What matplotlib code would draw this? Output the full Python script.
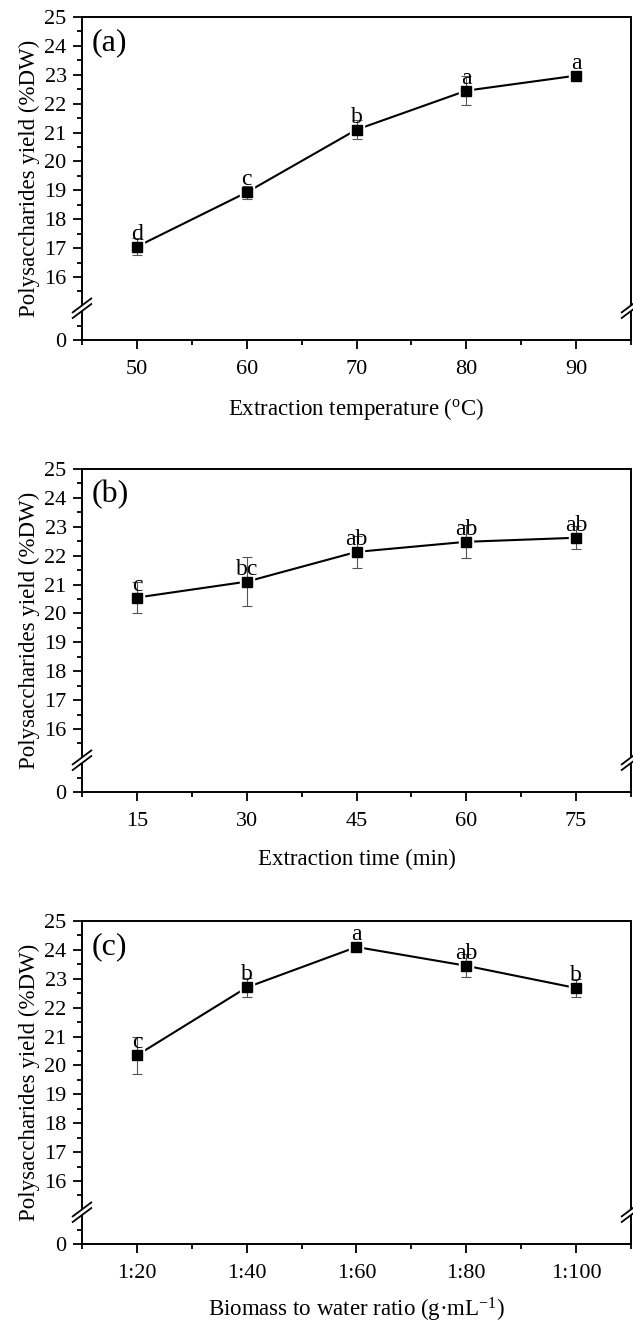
import numpy as np
import matplotlib
matplotlib.use("Agg")
import matplotlib.pyplot as plt
from matplotlib.ticker import FixedLocator
from matplotlib.patches import Polygon

plt.rcParams['font.family'] = ['Liberation Serif', 'DejaVu Serif']
plt.rcParams['mathtext.fontset'] = 'custom'
plt.rcParams['mathtext.rm'] = 'Liberation Serif'
plt.rcParams['mathtext.it'] = 'Liberation Serif:italic'

# ---- data ----
temp = [50, 60, 70, 80, 90]
yield_temp = [17.05, 18.93, 21.10, 22.45, 22.97]
err_temp = [0.30, 0.22, 0.33, 0.50, 0.10]
sig_temp = ['d', 'c', 'b', 'a', 'a']

time_min = [15, 30, 45, 60, 75]
yield_time = [20.55, 21.10, 22.13, 22.48, 22.62]
err_time = [0.55, 0.85, 0.55, 0.57, 0.40]
sig_time = ['c', 'bc', 'ab', 'ab', 'ab']

ratio_labels = ['1:20', '1:40', '1:60', '1:80', '1:100']
yield_ratio = [20.35, 22.70, 24.10, 23.45, 22.68]
err_ratio = [0.65, 0.32, 0.05, 0.40, 0.30]
sig_ratio = ['c', 'b', 'a', 'ab', 'b']

# ---- broken y-scale ----
LO, HI, EPS = 1.1, 14.92, 1e-3


def fwd(y):
    y = np.asarray(y, dtype=float)
    return np.where(y <= LO, y,
                    np.where(y >= HI, y - (HI - LO) + EPS,
                             LO + (y - LO) * EPS / (HI - LO)))


def inv(t):
    t = np.asarray(t, dtype=float)
    return np.where(t <= LO, t,
                    np.where(t >= LO + EPS, t + (HI - LO) - EPS,
                             LO + (t - LO) * (HI - LO) / EPS))


W, H = 633, 1324
fig = plt.figure(figsize=(W / 100, H / 100), dpi=100)

left = 82 / W
width = 549 / W
height = 323 / H
bottoms = [(H - 340) / H, (H - 792) / H, (H - 1244) / H]

TICK_FS = 16
LAB_FS = 16.5
SIG_FS = 17
PAN_FS = 23


def break_mark(ax, xa):
    tr = ax.transAxes
    ax_w = 549.0
    ax_h = 323.0
    t_top = fwd(25.0)
    yb = float(fwd(LO + 1e-9)) / float(t_top)
    dx = 10.0 / ax_w
    dy = 7.5 / ax_h
    g = 2.8 / ax_h
    poly = Polygon([(xa - dx, yb - dy - g), (xa + dx, yb + dy - g),
                    (xa + dx, yb + dy + g), (xa - dx, yb - dy + g)],
                   closed=True, transform=tr, facecolor='white',
                   edgecolor='none', clip_on=False, zorder=10)
    ax.add_patch(poly)
    for s in (-g, g):
        ax.plot([xa - dx, xa + dx], [yb - dy + s, yb + dy + s], color='black',
                lw=1.3, transform=tr, clip_on=False, zorder=11,
                solid_capstyle='butt')


def make_panel(ax, x, y, e, sig, xlim, xticks, xminor, xlabel, panel, xlpad):
    ax.set_yscale('function', functions=(fwd, inv))
    ax.plot(x, y, color='black', lw=1.5, zorder=2)
    ax.plot(x, y, linestyle='none', marker='s', markersize=10.5,
            markerfacecolor='white', markeredgecolor='white', zorder=3)
    ax.errorbar(x, y, yerr=e, fmt='none', ecolor='#555555', elinewidth=0.8,
                capsize=3.5, capthick=0.8, zorder=4)
    ax.plot(x, y, linestyle='none', marker='s', markersize=7.7,
            markerfacecolor='black', markeredgecolor='black', zorder=5)
    for xi, yi, s in zip(x, y, sig):
        ax.annotate(s, (xi, yi), xytext=(0, 5.0), textcoords='offset points',
                    ha='center', va='baseline', fontsize=SIG_FS, zorder=6)
    ax.set_ylim(0, 25)
    ax.set_xlim(*xlim)
    ax.yaxis.set_major_locator(FixedLocator([0] + list(range(16, 26))))
    ax.yaxis.set_minor_locator(FixedLocator([0.5] + [15.5 + i for i in range(10)]))
    ax.set_yticklabels(['0'] + [str(v) for v in range(16, 26)])
    ax.set_xticks(xticks)
    ax.xaxis.set_minor_locator(FixedLocator(xminor))
    ax.tick_params(which='both', direction='out', top=False, right=False,
                   labelsize=TICK_FS, width=1.3)
    ax.tick_params(which='major', length=6.5)
    ax.tick_params(which='minor', length=3.5)
    ax.tick_params(axis='x', pad=8)
    ax.tick_params(axis='y', pad=4.5)
    for sp in ax.spines.values():
        sp.set_linewidth(1.4)
    ax.set_xlabel(xlabel, fontsize=LAB_FS, labelpad=xlpad)
    ax.set_ylabel('Polysaccharides yield (%DW)', fontsize=LAB_FS, labelpad=3)
    ax.text(0.018, 0.965, panel, transform=ax.transAxes, fontsize=PAN_FS,
            va='top', ha='left')
    break_mark(ax, 0.0)
    break_mark(ax, 1.0)


ax1 = fig.add_axes([left, bottoms[0], width, height])
make_panel(ax1, temp, yield_temp, err_temp, sig_temp, (45, 95),
           temp, [45, 55, 65, 75, 85, 95],
           'Extraction temperature ($^{\\rm o}$C)', '(a)', 12)

ax2 = fig.add_axes([left, bottoms[1], width, height])
make_panel(ax2, time_min, yield_time, err_time, sig_time, (7.5, 82.5),
           time_min, [7.5, 22.5, 37.5, 52.5, 67.5, 82.5],
           'Extraction time (min)', '(b)', 13)

ax3 = fig.add_axes([left, bottoms[2], width, height])
make_panel(ax3, ratio_labels, yield_ratio, err_ratio, sig_ratio, (-0.5, 4.5),
           range(len(ratio_labels)), [-0.5, 0.5, 1.5, 2.5, 3.5, 4.5],
           'Biomass to water ratio (g\u00b7mL$^{-1}$)', '(c)', 9)
ax3.set_xticklabels(ratio_labels)

fig.savefig('out.png', dpi=100)
